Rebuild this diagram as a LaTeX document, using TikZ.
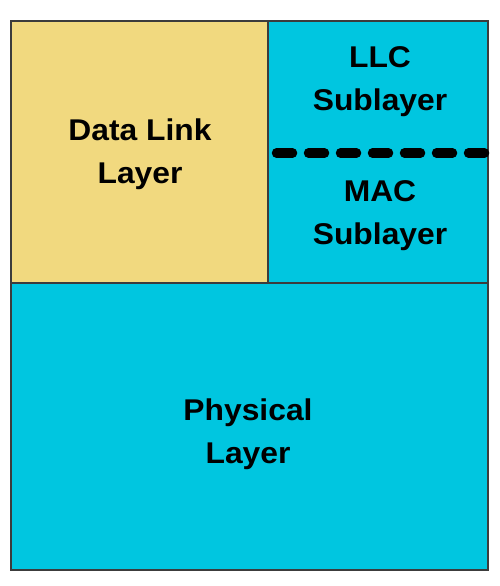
\documentclass[tikz,border=0pt]{standalone}
\usepackage{fontspec}
\setmainfont[FakeStretch=1.06]{Liberation Sans}
\usetikzlibrary{positioning}

\definecolor{linkyellow}{HTML}{F1D97F}
\definecolor{layercyan}{HTML}{00C6E0}
\definecolor{edgegray}{HTML}{3C3C3C}

\tikzset{
  layerbox/.style={draw=edgegray, line width=2.2pt},
  layertext/.style={inner sep=0.75pt, align=center, font=\fontsize{30}{43}\selectfont\bfseries}
}

\begin{document}
\begin{tikzpicture}[x=1pt, y=1pt, yscale=-1, xscale=1]
\useasboundingbox (0, 0) rectangle (500, 586);
%Boxes
\draw [layerbox, fill=linkyellow] (11, 21) rectangle (268, 283);
\draw [layerbox, fill=layercyan] (268, 21) rectangle (488, 283);
\draw [layerbox, fill=layercyan] (11, 283) rectangle (488, 570);
\draw [line width=9.5pt, line cap=round, dash pattern=on 16pt off 16pt] (276.5, 153) -- (486, 153);
%Text
\node (datalink) [layertext] at (140, 154.5) {Data Link\\Layer};
\node (llc) [layertext] at (380, 81.5) {LLC\\Sublayer};
\node (mac) [layertext] at (380, 215.5) {MAC\\Sublayer};
\node (physical) [layertext] at (248, 434.5) {Physical\\Layer};
\end{tikzpicture}
\end{document}
